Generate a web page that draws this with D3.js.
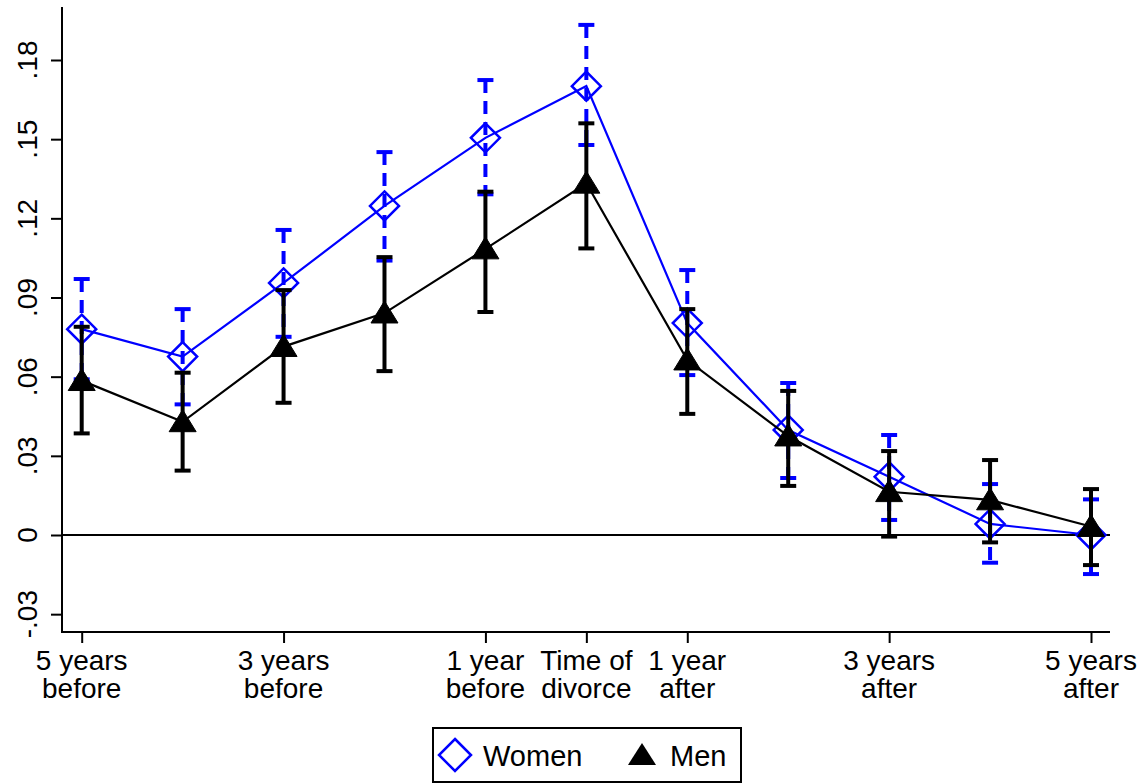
<!doctype html>
<html>
  <head>
    <meta charset="utf-8">
    <title>Event study around divorce</title>
    <script src="https://cdnjs.cloudflare.com/ajax/libs/d3/7.8.5/d3.min.js"></script>
    <style>
      body { margin: 0; background: #fff; }
      svg text { font-family: "Liberation Sans", Arial, sans-serif; fill: #000; }
    </style>
  </head>
  <body>
    <div id="root"></div>
    <script>
      // years relative to divorce
      const periods = [-5, -4, -3, -2, -1, 0, 1, 2, 3, 4, 5];

      const womenEst = [0.078, 0.0676, 0.0955, 0.1247, 0.1505, 0.1701, 0.0803, 0.0398, 0.0221, 0.0042, 0.0000];
      const womenLo  = [0.059, 0.0495, 0.0751, 0.1040, 0.1291, 0.1478, 0.0606, 0.0216, 0.0057, -0.0105, -0.0148];
      const womenHi  = [0.097, 0.0856, 0.1156, 0.1451, 0.1724, 0.1933, 0.1004, 0.0576, 0.0379, 0.0193, 0.0135];

      const menEst = [0.0585, 0.0429, 0.0714, 0.0841, 0.1084, 0.1333, 0.0663, 0.0375, 0.0164, 0.0133, 0.0032];
      const menLo  = [0.0385, 0.0244, 0.0501, 0.0621, 0.0845, 0.1086, 0.0459, 0.0186, -0.0006, -0.0028, -0.0114];
      const menHi  = [0.0789, 0.0615, 0.0928, 0.1053, 0.1301, 0.1560, 0.0856, 0.0546, 0.0318, 0.0284, 0.0174];

      const yTicks = [-0.03, 0, 0.03, 0.06, 0.09, 0.12, 0.15, 0.18];
      const yTickLabels = ["-.03", "0", ".03", ".06", ".09", ".12", ".15", ".18"];
      const xTicks = [-5, -3, -1, 0, 1, 3, 5];
      const xTickLabels = [
        ["5 years", "before"], ["3 years", "before"], ["1 year", "before"],
        ["Time of", "divorce"], ["1 year", "after"], ["3 years", "after"], ["5 years", "after"]
      ];

      const W = 1142, H = 783;
      const blue = "#0000ff";

      const svg = d3.select('#root').append('svg')
        .attr('width', W).attr('height', H);

      const xScale = d3.scaleLinear().domain([-5, 5]).range([81.7, 1091]);
      const yScale = d3.scaleLinear().domain([0, 0.18]).range([535, 60]);

      const plotLeft = 62, plotRight = 1110, plotTop = 7, plotBottom = 632;

      // y axis
      const yAxis = svg.append('g')
        .attr('transform', 'translate(' + plotLeft + ',0)')
        .call(d3.axisLeft(yScale).tickValues(yTicks).tickSize(11).tickFormat(''));
      yAxis.select('.domain').remove();
      yAxis.selectAll('.tick line').attr('stroke', '#000').attr('stroke-width', 2);
      svg.append('line')
        .attr('x1', plotLeft).attr('x2', plotLeft)
        .attr('y1', plotTop).attr('y2', plotBottom + 1)
        .attr('stroke', '#000').attr('stroke-width', 2);
      svg.selectAll('.ylab')
        .data(yTicks)
        .enter()
        .append('text')
        .attr('class', 'ylab')
        .attr('transform', d => 'translate(37,' + yScale(d) + ') rotate(-90)')
        .attr('text-anchor', 'middle')
        .attr('font-size', 28)
        .text((d, i) => yTickLabels[i]);

      // x axis
      const xAxis = svg.append('g')
        .attr('transform', 'translate(0,' + plotBottom + ')')
        .call(d3.axisBottom(xScale).tickValues(xTicks).tickSize(11).tickFormat(''));
      xAxis.select('.domain').remove();
      xAxis.selectAll('.tick line').attr('stroke', '#000').attr('stroke-width', 2);
      svg.append('line')
        .attr('x1', plotLeft - 1).attr('x2', plotRight)
        .attr('y1', plotBottom).attr('y2', plotBottom)
        .attr('stroke', '#000').attr('stroke-width', 2);
      const xl = svg.selectAll('.xlab')
        .data(xTicks)
        .enter()
        .append('text')
        .attr('class', 'xlab')
        .attr('text-anchor', 'middle')
        .attr('font-size', 28);
      xl.append('tspan').attr('x', d => xScale(d)).attr('y', 670).text((d, i) => xTickLabels[i][0]);
      xl.append('tspan').attr('x', d => xScale(d)).attr('y', 698).text((d, i) => xTickLabels[i][1]);

      // zero reference line
      svg.append('line')
        .attr('x1', plotLeft).attr('x2', plotRight)
        .attr('y1', yScale(0)).attr('y2', yScale(0))
        .attr('stroke', '#000').attr('stroke-width', 2);

      const diamond = s => 'M0,' + (-s) + 'L' + s + ',0L0,' + s + 'L' + (-s) + ',0Z';
      const triangle = (w, h) => 'M0,' + (-h * 0.55) + 'L' + (w / 2) + ',' + (h * 0.45) + 'L' + (-w / 2) + ',' + (h * 0.45) + 'Z';

      function drawCI(lo, hi, color, dashed) {
        const g = svg.append('g');
        g.selectAll('.bar').data(periods).enter().append('line')
          .attr('x1', d => xScale(d)).attr('x2', d => xScale(d))
          .attr('y1', (d, i) => yScale(hi[i])).attr('y2', (d, i) => yScale(lo[i]))
          .attr('stroke', color).attr('stroke-width', 4)
          .attr('stroke-dasharray', dashed ? '13,8' : null);
        [lo, hi].forEach(arr => {
          g.selectAll(null).data(periods).enter().append('line')
            .attr('x1', d => xScale(d) - 8).attr('x2', d => xScale(d) + 8)
            .attr('y1', (d, i) => yScale(arr[i])).attr('y2', (d, i) => yScale(arr[i]))
            .attr('stroke', color).attr('stroke-width', 4);
        });
      }

      function drawSeries(est, color, markerPath, fill) {
        const line = d3.line().x(d => xScale(d[0])).y(d => yScale(d[1]));
        svg.append('path')
          .datum(periods.map((p, i) => [p, est[i]]))
          .attr('d', line)
          .attr('fill', 'none')
          .attr('stroke', color)
          .attr('stroke-width', 2.2);
        svg.selectAll(null).data(periods).enter().append('path')
          .attr('d', markerPath)
          .attr('transform', (d, i) => 'translate(' + xScale(d) + ',' + yScale(est[i]) + ')')
          .attr('fill', fill)
          .attr('stroke', color)
          .attr('stroke-width', fill === 'none' ? 2.5 : 1);
      }

      drawCI(womenLo, womenHi, blue, true);
      drawSeries(womenEst, blue, diamond(14.5), 'none');
      drawCI(menLo, menHi, '#000', false);
      drawSeries(menEst, '#000', triangle(27, 22), '#000');

      // legend
      const leg = svg.append('g');
      leg.append('rect')
        .attr('x', 433).attr('y', 728)
        .attr('width', 308).attr('height', 54)
        .attr('fill', '#fff').attr('stroke', '#000').attr('stroke-width', 2);
      leg.append('path')
        .attr('d', diamond(16))
        .attr('transform', 'translate(455,755)')
        .attr('fill', 'none').attr('stroke', blue).attr('stroke-width', 2.5);
      leg.append('text').attr('x', 483).attr('y', 766).attr('font-size', 29).text('Women');
      leg.append('path')
        .attr('d', triangle(28, 22))
        .attr('transform', 'translate(642,755)')
        .attr('fill', '#000');
      leg.append('text').attr('x', 670).attr('y', 766).attr('font-size', 29).text('Men');
    </script>
  </body>
</html>
